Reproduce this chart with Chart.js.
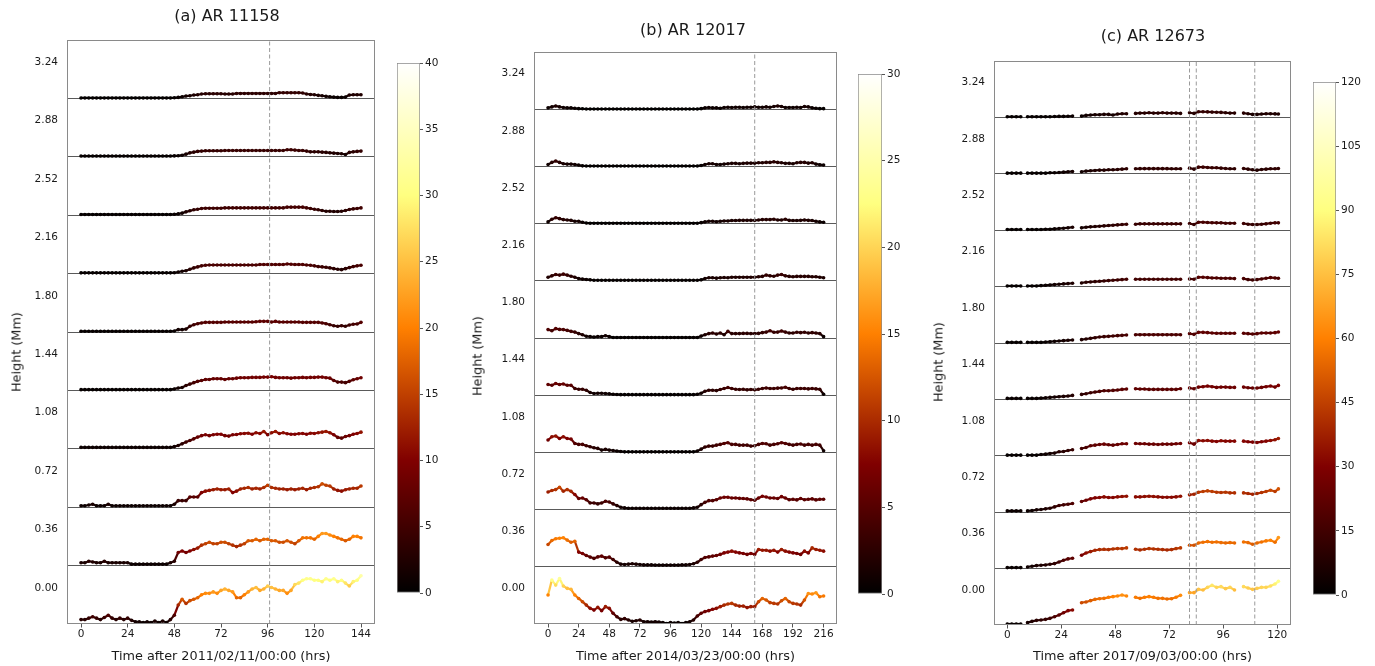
<!DOCTYPE html>
<html>
<head>
<meta charset="utf-8">
<script src="https://cdn.jsdelivr.net/npm/chart.js"></script>
<style>
  html, body { margin: 0; padding: 0; background: #fff; overflow: hidden; }
  body { width: 1375px; height: 666px; position: relative; font-family: "DejaVu Sans", sans-serif; }
  canvas { position: absolute; }
  .ylab { position: absolute; font-size: 12.8px; color: #1a1a1a; white-space: nowrap;
          transform: translate(-50%, -50%) rotate(-90deg); }
  .ttl { position: absolute; font-size: 16px; color: #1a1a1a; white-space: nowrap;
         transform: translate(-50%, -50%); }
</style>
</head>
<body>
<canvas id="pa"></canvas>
<canvas id="pb"></canvas>
<canvas id="pc"></canvas>
<canvas id="cba"></canvas>
<canvas id="cbb"></canvas>
<canvas id="cbc"></canvas>
<div class="ttl" style="left:227px;top:15px">(a) AR 11158</div>
<div class="ttl" style="left:693px;top:29px">(b) AR 12017</div>
<div class="ttl" style="left:1153px;top:35px">(c) AR 12673</div>
<div class="ylab" style="left:16px;top:352px">Height (Mm)</div>
<div class="ylab" style="left:477px;top:356px">Height (Mm)</div>
<div class="ylab" style="left:938px;top:362px">Height (Mm)</div>
<script>
// etiquetas de altura de cada franja (de abajo hacia arriba)
var HEIGHT_LABELS = ['0.00', '0.36', '0.72', '1.08', '1.44', '1.80', '2.16', '2.52', '2.88', '3.24'];

// ---------- (a) AR 11158 ----------
var TIMES_A = [0,2,4,6,8,10,12,14,16,18,20,22,24,26,28,30,32,34,36,38,40,42,44,46,48,50,52,54,56,58,60,62,64,66,68,70,72,74,76,78,80,82,84,86,88,90,92,94,96,98,100,102,104,106,108,110,112,114,116,118,120,122,124,126,128,130,132,134,136,138,140,142,144];
var XTICKS_A = [0, 24, 48, 72, 96, 120, 144];
var VLINES_A = [97];
var CBTICKS_A = [0, 5, 10, 15, 20, 25, 30, 35, 40];

var A_000 = [3,3,4,5,4,3,4.5,6,4,3,4,3, 4,2.5,1.5,1.5,1,1.5,1,2,1,2,1,3, 6,13,17,14,16,17,18,20,21,21,22,21, 23,24,23,22,18,18,20,22,24,25,23,24, 26,25,24,23,23,21,23,27,28,30,31,31, 30,30,29,31,30,31,29,30,28,26,29,30, 33];
var A_036 = [2,2,3,2.5,2,2,3,2,2,2,2,2, 2,1,1,1,1,1,1,1,1,1,1,2, 3,9,10,9,10,11,12,14,15,16,15,15, 16,16,15,14,13,14,15,17,17,18,17,18, 18,17,17,16,16,17,16,15,17,19,19,19, 18,20,22,22,21,20,19,18,17,18,20,20, 19];
var A_072 = [1,1,1.5,2,1,1,1,2,1,1,1,1, 1,1,1,1,1,1,1,1,1,1,1,1, 2,4.5,4.5,4.5,7,7,7,10,11,11.5,12,12.5, 12,12,12.5,10,11,12.5,13,13.5,12.5,13,12.5,13.5, 15,13.5,13,12.5,12.5,12,12.5,12,12.5,13,12,13, 13.5,14,16,15,14.5,12.5,11.5,11,12,12.5,13,13, 14.5];
var A_108 = [1,1,1,1,1,1,1,1,1,1,1,1, 1,1,1,1,1,1,1,1,1,1,1,1, 1.5,2.3,3.4,4.6,5.7,6.8,8,9,9.6,9,9.6,10, 10,9,8.7,9.6,9.8,10.3,10.5,10.7,10,11,10.5,11.9, 9.6,11,11.9,10.5,11,10.3,10,10,10.3,10.5,10,10.7, 10.5,11,11.4,11.9,11,9.6,7.8,7.3,8.4,9,10,10.5, 11.4];
var A_144 = [0.5,0.5,0.5,0.5,0.5,0.5,0.5,0.5,0.5,0.5,0.5,0.5, 0.5,0.5,0.5,0.5,0.5,0.5,0.5,0.5,0.5,0.5,0.5,0.5, 1,1.6,2,3.4,4.3,5.3,6.2,6.8,7.5,7.5,8,8, 8,7.5,8,8,8.4,8.7,8.7,8.7,8.9,8.9,8.9,9.1, 9.1,9.4,8.9,8.7,8.7,8.7,8.4,8.7,8.7,8.9,8.7,8.9, 8.9,9.1,9.1,8.7,8.4,6.8,5.7,5.7,5.3,6.2,7.3,8, 8.7];
var A_180 = [0.5,0.5,0.5,0.5,0.5,0.5,0.5,0.5,0.5,0.5,0.5,0.5, 0.5,0.5,0.5,0.5,0.5,0.5,0.5,0.5,0.5,0.5,0.5,0.5, 0.7,1.6,1.6,2,3.9,5,5.7,6.2,6.6,6.6,6.6,6.6, 6.6,6.8,6.8,6.8,6.8,6.8,6.8,6.8,6.8,7,7.3,7.3, 7.3,6.8,7.3,6.8,6.8,6.8,6.8,6.8,6.8,6.6,6.6,6.6, 6.6,6.6,6.2,5.7,5,4.3,3.9,4.3,3.9,4.8,5.3,5.5, 6.6];
var A_216 = [0.5,0.5,0.5,0.5,0.5,0.5,0.5,0.5,0.5,0.5,0.5,0.5, 0.5,0.5,0.5,0.5,0.5,0.5,0.5,0.5,0.5,0.5,0.5,0.5, 0.6,1.1,1.6,2,3,3.9,4.6,5.3,5.7,5.9,5.9,5.9, 5.9,5.9,5.9,5.9,5.9,5.9,5.9,5.9,5.9,5.9,6.2,6.2, 6.2,6.2,6.2,6.2,6.2,6.6,6.4,6.2,6.2,6.2,5.9,5.7, 5.3,4.8,4.6,4.3,3.9,3.4,3,2.7,3.4,4.1,4.8,5.3, 5.7];
var A_252 = [0.5,0.5,0.5,0.5,0.5,0.5,0.5,0.5,0.5,0.5,0.5,0.5, 0.5,0.5,0.5,0.5,0.5,0.5,0.5,0.5,0.5,0.5,0.5,0.5, 0.6,0.9,1.4,2.3,3,3.7,4.1,4.6,4.8,4.8,4.8,4.8, 4.8,5,5,5,5,5,5,5,5,5,5,5, 5,5,5,5,5,5.5,5.5,5.5,5.5,5.5,5,4.6, 4.1,3.7,3.2,2.7,2.7,2.5,2.5,2.7,3.2,3.9,4.3,4.6, 5];
var A_288 = [0.5,0.5,0.5,0.5,0.5,0.5,0.5,0.5,0.5,0.5,0.5,0.5, 0.5,0.5,0.5,0.5,0.5,0.5,0.5,0.5,0.5,0.5,0.5,0.5, 0.6,0.7,1.1,1.8,2.7,3.2,3.7,3.9,4.1,4.1,4.1,4.1, 4.1,4.3,4.3,4.3,4.3,4.3,4.3,4.3,4.3,4.3,4.3,4.3, 4.3,4.3,4.3,4.3,4.3,4.8,4.8,4.6,4.3,4.3,3.9,3.4, 3.4,3.4,3.2,3,2.7,2.5,2.3,2.1,1.6,3,3.4,3.7, 3.9];
var A_324 = [0.3,0.3,0.3,0.3,0.3,0.3,0.3,0.3,0.3,0.3,0.3,0.3, 0.3,0.3,0.3,0.3,0.3,0.3,0.3,0.3,0.3,0.3,0.3,0.3, 0.4,0.7,1.1,1.6,1.8,2.3,2.5,3,3.2,3.2,3.2,3.2, 3.2,3,3,3,3.4,3.4,3.4,3.4,3.4,3.4,3.4,3.4, 3.4,3.4,3.4,3.9,3.9,3.9,3.9,3.9,3.9,3.7,3,2.7, 2.5,2.1,1.8,1.4,1.1,0.9,0.7,0.7,0.9,2.3,2.5,2.5, 2.5];

// ---------- (b) AR 12017 ----------
var TIMES_B = [0,3,6,9,12,15,18,21,24,27,30,33,36,39,42,45,48,51,54,57,60,63,66,69,72,75,78,81,84,87,90,93,96,99,102,105,108,111,114,117,120,123,126,129,132,135,138,141,144,147,150,153,156,159,162,165,168,171,174,177,180,183,186,189,192,195,198,201,204,207,210,213,216];
var XTICKS_B = [0, 24, 48, 72, 96, 120, 144, 168, 192, 216];
var VLINES_B = [162];
var CBTICKS_B = [0, 5, 10, 15, 20, 25, 30];

var B_000 = [15.2,23,20.4,23.9,19.9,18.7,18.2,15.2,13.4,11.7,9.9,8.2, 7.3,8.7,7,9.1,8.2,5.6,3.8,2.4,2.8,2.1,1.4,1.7, 2.1,1.2,1.2,1,1.2,1,0.7,0.3,0.7,0.5,0.7,0.3, 0.7,1.2,2.1,4.2,5.6,6.5,7,7.7,8.2,9.1,9.9,10.5, 10.8,9.9,9.4,9.4,8.6,9.1,9.1,11.7,13.4,12.6,11.2,10.8, 10.5,12.2,13.4,11.7,10.8,10.5,9.9,12.6,16,15.7,16.4,14.3, 14.7];
var B_036 = [11.7,13.8,14.7,15,15.2,14,12.9,13.4,7.7,7,5.9,5.1, 4.4,5.2,5.6,4.7,5.1,3.8,2.4,1.4,1.2,1.4,1.6,1.4, 1.2,1,1,1,0.9,0.9,0.9,0.9,0.9,0.9,0.9,1, 1,1.2,1.6,2.4,3.8,4.9,5.2,5.6,5.9,6.5,7.3,7.7, 8.2,7.7,7.3,7,6.5,7,6.5,9.1,8.7,8.7,8.2,8.7, 7.7,9.1,8.2,7.7,7.3,7,6.5,8.2,7.3,9.9,9.1,8.7, 8.2];
var B_072 = [9.2,10,10.5,11.7,9.6,10.5,9.6,7.9,5.8,6.1,5.2,3.5, 3.5,3,3.5,4.4,4,3,2.1,1.2,0.9,0.7,0.7,0.7, 0.7,0.7,0.7,0.7,0.7,0.7,0.7,0.7,0.7,0.7,0.7,0.7, 0.7,0.7,0.9,1.2,2.6,3.8,4.7,4.7,5.2,6.1,6.5,6.5, 6.1,6.1,5.9,5.8,5.6,5.2,4.9,6.1,7,6.6,6.1,6.1, 5.8,6.8,6.1,5.2,5.4,5.1,5.8,5.2,5.4,5.6,5.1,5.4, 5.4];
var B_108 = [6.5,8.2,8.6,7.3,8.2,7.3,7,4.7,4.2,4.2,3.5,3, 2.4,2.1,1.2,1.6,1.2,1,0.7,0.5,0.3,0.3,0.3,0.3, 0.3,0.3,0.3,0.3,0.3,0.3,0.3,0.3,0.3,0.3,0.3,0.3, 0.3,0.3,0.3,0.7,1.7,2.8,3.3,3.3,3.8,4.2,4.7,5.1, 4.2,4.2,3.8,3.8,3.8,3.3,3.5,4.2,4.7,4.5,3.8,4.2, 4.5,5.1,4.7,4.2,3.8,4.2,4.4,3.8,4.2,3.8,4.2,3.8, 0.9];
var B_144 = [5.6,5.2,6.1,5.6,5.9,5.2,5.2,3.5,3.1,3.1,2.6,1.4, 0.9,1,1,0.9,0.7,0.5,0.4,0.3,0.3,0.3,0.3,0.3, 0.3,0.3,0.3,0.3,0.3,0.3,0.3,0.3,0.3,0.3,0.3,0.3, 0.3,0.3,0.3,0.5,1,2.1,2.6,2.6,2.4,3,3.5,4, 3.5,3.1,3,3.1,2.8,3,2.8,3.1,3.5,3.8,3.5,3.5, 3.7,3.8,4.2,3.5,3.1,3.5,3.5,3.5,3.3,3.5,3.3,3.1, 0.5];
var B_180 = [4.4,3.8,4.9,4.5,4.4,4,3.5,3.1,2.3,1.7,0.9,0.7, 0.5,0.7,0.7,1.2,0.7,0.3,0.3,0.3,0.3,0.3,0.3,0.3, 0.3,0.3,0.3,0.3,0.3,0.3,0.3,0.3,0.3,0.3,0.3,0.3, 0.3,0.3,0.3,0.3,1,1.7,2.3,2.6,2.1,2.6,1.7,3.5, 2.3,2.3,2.3,2.4,2.4,2.3,2.3,2.4,2.8,3.1,3.8,3, 3.1,3.7,3.1,2.6,2.6,3,2.8,3,2.6,2.8,2.6,2.3, 0.7];
var B_216 = [1.9,2.6,3.3,3,3.5,3,2.4,1.9,1.2,0.9,0.7,0.5, 0.3,0.3,0.3,0.3,0.3,0.3,0.3,0.3,0.3,0.3,0.3,0.3, 0.3,0.3,0.3,0.3,0.3,0.3,0.3,0.3,0.3,0.3,0.3,0.3, 0.3,0.3,0.3,0.3,0.5,1.2,1.6,1.6,1.4,1.6,1.7,1.6, 1.9,1.9,1.9,1.9,1.9,1.9,1.9,2.1,2.3,3,2.6,2.4, 3,3.3,2.6,2.3,2.1,2.3,2.3,2.3,2.3,2.1,2.1,1.9, 1.6];
var B_252 = [0.9,2.3,3.1,2.6,2.1,1.9,1.7,1.2,1.2,0.7,0.3,0.2, 0.2,0.2,0.2,0.2,0.2,0.2,0.2,0.2,0.2,0.2,0.2,0.2, 0.2,0.2,0.2,0.2,0.2,0.2,0.2,0.2,0.2,0.2,0.2,0.2, 0.2,0.2,0.2,0.2,0.5,0.9,1.2,1.2,1,1.2,1.4,1.4, 1.6,1.6,1.7,1.7,1.7,1.7,1.7,1.9,2.1,2.1,2.1,2.3, 1.9,1.9,2.3,1.7,1.6,1.6,1.7,1.9,1.7,1.6,1.2,0.9, 0.7];
var B_288 = [1,2.1,2.8,2.1,1.4,1.2,1.2,1,0.7,0.3,0.2,0.2, 0.2,0.2,0.2,0.2,0.2,0.2,0.2,0.2,0.2,0.2,0.2,0.2, 0.2,0.2,0.2,0.2,0.2,0.2,0.2,0.2,0.2,0.2,0.2,0.2, 0.2,0.2,0.2,0.2,0.5,1,1.4,1.4,1,1,1.2,1.4, 1.6,1.6,1.4,1.6,1.7,1.7,1.7,1.9,1.9,2.1,2.1,2.4, 2.1,1.9,1.6,1.6,1.4,1.9,2.1,2.1,1.7,1.9,1.2,0.9, 0.7];
var B_324 = [0.7,1.2,1.7,1.2,0.9,0.7,0.7,0.5,0.3,0.2,0.1,0.1, 0.1,0.1,0.1,0.1,0.1,0.1,0.1,0.1,0.1,0.1,0.1,0.1, 0.1,0.1,0.1,0.1,0.1,0.1,0.1,0.1,0.1,0.1,0.1,0.1, 0.1,0.1,0.1,0.1,0.3,0.7,0.9,0.7,0.7,0.5,0.9,1, 0.9,1,1,0.9,1,1,1.2,1,1,1.2,1,1.4, 1.7,1.4,0.9,0.9,0.9,1,0.9,1.4,1.2,0.7,0.5,0.3, 0.3];

// ---------- (c) AR 12673 ----------
var TIMES_C = [0,2,4,6, 9,11,13,15,17,19,21,23,25,27,29, 33,35,37,39,41,43,45,47,49,51,53, 57,59,61,63,65,67,69,71,73,75,77, 81,83,85,87,89,91,93,95,97,99,101, 105,107,109,111,113,115,117,119,120.5];
var XTICKS_C = [0, 24, 48, 72, 96, 120];
var VLINES_C = [81, 84, 110];
var CBTICKS_C = [0, 15, 30, 45, 60, 75, 90, 105, 120];

var C_000 = [2.1,2.1,2.1,2.1, 5,7.8,9.9,10.6,12,14.2,17.7,21.3,26.2,30.5,31.9, 47.5,48.9,51.8,54.6,56,56.7,58.9,60.3,61.7,63.8,61.7, 58.9,56.7,58.9,60.3,58.9,56.7,56.7,55.3,56,58.9,63.1, 68.8,68.8,75.9,74.5,80.1,84.4,80.1,81.6,77.3,80.1,74.5, 81.6,78.7,75.9,78,80.1,80.1,83,87.2,92.9];
var C_036 = [2.1,2.1,2.1,2.1, 3.5,5,6.4,7.1,7.8,9.2,10.6,14.2,17.7,20.6,22, 28.4,33.3,36.2,39,40.4,41.1,40.4,41.8,42.6,42.6,44, 41.1,39.7,41.1,42.6,41.8,41.1,40.4,39.7,40.4,42.6,44, 49.6,49.6,54.6,56,57.4,56,56.7,55.3,54.6,55.3,54.6, 56.7,55.3,51.8,54.6,56.7,58.9,60.3,56,66];
var C_072 = [2.8,2.8,2.8,2.8, 2.8,3.5,5,5.7,7.1,8.5,11.3,14.2,15.6,17,18.4, 22.7,25.5,28.4,30.5,31.2,32.6,31.2,31.2,32.6,33.3,34, 32.6,32.6,33.3,34,33.3,32.6,31.9,31.9,31.9,32.6,34, 36.9,38.3,42.6,44,45.4,44,42.6,41.8,42.6,41.1,41.1, 41.1,39.7,38.3,39.7,41.8,44,46.8,44,49.6];
var C_108 = [1.4,1.4,1.4,1.4, 1.4,1.4,1.4,2.8,3.5,5,5.7,8.5,9.2,11.3,12.8, 15.6,17.7,21.3,22.7,24.1,24.8,23.4,22.7,24.1,25.5,25.5, 26.2,25.5,25.5,24.8,24.8,24.1,24.8,24.8,24.8,25.5,26.2, 27.7,24.8,32.6,31.9,32.6,31.2,30.5,31.9,31.2,31.2,31.2, 31.2,29.8,29.1,28.4,29.8,31.2,32.6,34,36.9];
var C_144 = [2.1,2.1,2.1,2.1, 2.1,2.1,2.1,2.8,3.5,4.3,5,5.7,6.4,7.1,8.5, 10.6,12,14.2,15.6,17,18.4,18.4,19.1,19.9,21.3,22, 22.7,22,22,21.3,21.3,21.3,21.3,21.3,21.3,21.3,22.7, 24.1,22.7,26.2,27,28.4,27,25.5,26.2,26.2,25.5,25.5, 26.2,24.8,24.1,24.1,25.5,27,28.4,26.2,29.8];
var C_180 = [1.4,1.4,1.4,1.4, 1.4,1.4,1.4,1.4,2.1,2.8,3.5,4.3,5,5.7,6.4, 7.1,8.5,9.9,11.3,12.8,13.5,14.2,14.9,15.6,16.3,17, 17.7,17.7,17.7,17.7,17.7,17.7,17.7,17.7,17.7,17.7,17.7, 19.9,18.4,22.7,22.7,22,21.3,20.6,20.6,20.6,20.6,20.6, 20.6,19.9,19.1,19.9,21.3,21.3,21.3,22,23.4];
var C_216 = [1.4,1.4,1.4,1.4, 1.4,1.4,1.4,2.1,2.8,3.5,4.3,5,5.7,6.4,7.1, 7.8,9.2,9.9,10.6,11.3,12,12.8,13.5,14.2,14.9,15.6, 15.6,15.6,15.6,15.6,15.6,15.6,15.6,15.6,15.6,15.6,15.6, 16.3,15.6,19.9,19.9,19.1,18.4,18.4,17.7,17.7,17.7,17, 17,14.9,14.2,14.9,16.3,17.7,19.1,18.4,17.7];
var C_252 = [1.4,1.4,1.4,1.4, 1.4,1.4,1.4,1.4,2.1,2.1,2.8,3.5,4.3,5,6.4, 5,6.4,7.1,7.8,8.5,9.2,9.9,10.6,11.3,12,12.8, 12.8,13.5,13.5,13.5,13.5,13.5,13.5,13.5,13.5,13.5,13.5, 14.2,12,17,17,16.3,16,15.6,15.6,14.9,14.9,14.9, 14.2,12.8,12,12,12.8,13.5,14.9,15.6,15.6];
var C_288 = [1.4,1.4,1.4,1.4, 1.4,1.4,1.4,1.4,1.4,2.1,2.1,2.8,3.5,4.3,5, 4.3,5.7,6.4,7.1,7.8,7.8,8.5,8.5,9.2,9.9,10.6, 10.6,11,11,11,11,11,11,11,10.6,10.6,10.6, 12,9.9,14.2,14.2,13.5,12.8,12.8,12,11.3,10.6,10.6, 11.3,9.9,8.5,7.8,9.2,9.9,10.6,10.6,11.3];
var C_324 = [1.4,1.4,1.4,1.4, 1.4,1.4,1.4,1.4,1.4,1.4,1.8,2.1,2.1,2.5,2.8, 2.8,4.3,5,5.7,5.7,6.4,6.4,5,7.1,7.8,7.8, 8.5,9.2,9.2,9.9,9.2,9.2,9.9,9.2,9.2,9.2,8.5, 9.9,8.5,12,12,11.7,11.3,11,10.6,9.9,9.2,9.2, 9.2,7.8,6.4,6.4,7.1,7.8,7.8,7.4,7.1];

Chart.defaults.font.family = '"DejaVu Sans", sans-serif';
Chart.defaults.color = '#1a1a1a';
Chart.defaults.animation = false;

// mapa de color afmhot (negro - rojo - naranja - amarillo - blanco)
function afmhot(f) {
    f = Math.max(0, Math.min(1, f));
    var c = function(x) { return Math.round(255 * Math.max(0, Math.min(1, x))); };
    return 'rgb(' + c(2 * f) + ',' + c(2 * f - 0.5) + ',' + c(2 * f - 1) + ')';
}
var AFMHOT_STOPS = [[0, '#000000'], [0.25, '#800000'], [0.5, '#ff8000'], [0.75, '#ffff80'], [1, '#ffffff']];

// marco completo alrededor del area del grafico
var framePlugin = {
    id: 'frame',
    afterDatasetsDraw: function(chart) {
        var a = chart.chartArea, ctx = chart.ctx;
        ctx.save();
        ctx.strokeStyle = '#8a8a8a';
        ctx.lineWidth = 1;
        var l = Math.round(a.left) + 0.5, t = Math.round(a.top) + 0.5;
        var r = Math.round(a.right) - 0.5, b = Math.round(a.bottom) - 0.5;
        ctx.strokeRect(l, t, r - l, b - t);
        ctx.restore();
    }
};

function makePanel(p) {
    var canvas = document.getElementById(p.id);
    canvas.width = p.w;
    canvas.height = 666;
    canvas.style.left = p.left + 'px';
    canvas.style.top = '0px';
    var R = p.R;
    var datasets = [];

    p.vlines.forEach(function(t) {
        datasets.push({
            type: 'line',
            data: [{x: t, y: 0}, {x: t, y: 10 * R}],
            borderColor: '#9a9a9a', borderWidth: 1, borderDash: [4, 2.5],
            pointRadius: 0, order: -1
        });
    });

    p.strips.forEach(function(vals, k) {
        datasets.push({
            type: 'scatter',
            data: vals.map(function(v, i) { return {x: p.times[i], y: k * R + v}; }),
            pointBackgroundColor: vals.map(function(v) { return afmhot(v / R); }),
            pointBorderWidth: 0,
            pointRadius: 1.8,
            showLine: true,
            borderWidth: 2.2,
            segment: {
                // color del tramo segun el valor; sin tramo en los huecos de datos
                borderColor: function(s) {
                    if (s.p1.parsed.x - s.p0.parsed.x > p.gap) return 'rgba(0,0,0,0)';
                    var v = (s.p0.parsed.y + s.p1.parsed.y) / 2 - k * R;
                    return afmhot(v / R);
                }
            },
            order: 1
        });
    });

    // ticks del eje y: etiqueta de cada franja + separadores
    var yTicks = [];
    for (var k = 0; k < 10; k++) {
        yTicks.push({value: (k + 0.62) * R, lbl: HEIGHT_LABELS[k]});
        if (k > 0) yTicks.push({value: k * R, lbl: ''});
    }
    yTicks.sort(function(a, b) { return a.value - b.value; });

    new Chart(canvas, {
        type: 'scatter',
        data: {datasets: datasets},
        options: {
            responsive: false,
            events: [],
            layout: {padding: {left: 0, top: p.chartT, bottom: 0, right: p.left + p.w - p.chartR}},
            plugins: {
                legend: {display: false},
                tooltip: {enabled: false}
            },
            scales: {
                x: {
                    type: 'linear', min: p.xMin, max: p.xMax,
                    afterBuildTicks: function(s) { s.ticks = p.xTicks.map(function(v) { return {value: v}; }); },
                    afterFit: function(s) { s.height = 666 - p.chartB; },
                    grid: {drawOnChartArea: false, drawTicks: true, tickLength: 3.5, color: '#555'},
                    border: {display: false},
                    ticks: {padding: 0.5, font: {size: 10.5}, maxRotation: 0, autoSkip: false},
                    title: {display: true, text: p.xlabel, font: {size: 12.8}, padding: {top: 0, bottom: 1.5}}
                },
                y: {
                    min: 0, max: 10 * R,
                    afterBuildTicks: function(s) { s.ticks = yTicks.map(function(t) { return {value: t.value, lbl: t.lbl}; }); },
                    afterFit: function(s) { s.width = p.chartL - p.left; },
                    grid: {
                        drawTicks: false, lineWidth: 1,
                        color: function(c) { return (c.tick && c.tick.lbl) ? 'rgba(0,0,0,0)' : '#5a5a5a'; }
                    },
                    border: {display: false},
                    ticks: {
                        autoSkip: false, padding: 9, font: {size: 10.5},
                        callback: function(v, i, ticks) { return ticks[i].lbl || ''; }
                    }
                }
            }
        },
        plugins: [framePlugin]
    });
}

function makeColorbar(c) {
    var canvas = document.getElementById(c.id);
    canvas.width = c.R - c.L + 5 + 32;
    canvas.height = c.B - c.T + 20;
    canvas.style.left = (c.L - 5) + 'px';
    canvas.style.top = (c.T - 10) + 'px';
    new Chart(canvas, {
        type: 'bar',
        data: {
            labels: [''],
            datasets: [{
                data: [[0, c.max]],
                backgroundColor: function(ctx) {
                    var a = ctx.chart.chartArea;
                    if (!a) return '#000';
                    var g = ctx.chart.ctx.createLinearGradient(0, a.bottom, 0, a.top);
                    AFMHOT_STOPS.forEach(function(s) { g.addColorStop(s[0], s[1]); });
                    return g;
                },
                borderColor: '#8a8a8a', borderWidth: 1, borderSkipped: false,
                barPercentage: 1, categoryPercentage: 1
            }]
        },
        options: {
            responsive: false,
            events: [],
            layout: {padding: {left: 5, top: 10, bottom: 10, right: 0}},
            plugins: {legend: {display: false}, tooltip: {enabled: false}},
            scales: {
                x: {display: false},
                y: {
                    position: 'right', min: 0, max: c.max,
                    afterBuildTicks: function(s) { s.ticks = c.ticks.map(function(v) { return {value: v}; }); },
                    afterFit: function(s) { s.width = 32; },
                    grid: {drawOnChartArea: false, drawTicks: true, tickLength: 3, color: '#555'},
                    border: {display: false},
                    ticks: {padding: 2, font: {size: 10.5}, autoSkip: false}
                }
            }
        }
    });
}

makePanel({
    id: 'pa', left: 0, w: 454, chartL: 67, chartR: 375, chartT: 40, chartB: 624, gap: 2.5,
    xlabel: 'Time after 2011/02/11/00:00 (hrs)',
    xMin: -7.2, xMax: 151.2, xTicks: XTICKS_A, vlines: VLINES_A, R: 40, times: TIMES_A,
    strips: [A_000, A_036, A_072, A_108, A_144, A_180, A_216, A_252, A_288, A_324]
});
makePanel({
    id: 'pb', left: 440, w: 506, chartL: 534, chartR: 837, chartT: 52, chartB: 624, gap: 3.5,
    xlabel: 'Time after 2014/03/23/00:00 (hrs)',
    xMin: -11, xMax: 226.5, xTicks: XTICKS_B, vlines: VLINES_B, R: 30, times: TIMES_B,
    strips: [B_000, B_036, B_072, B_108, B_144, B_180, B_216, B_252, B_288, B_324]
});
makePanel({
    id: 'pc', left: 915, w: 476, chartL: 994, chartR: 1291, chartT: 61, chartB: 625, gap: 2.5,
    xlabel: 'Time after 2017/09/03/00:00 (hrs)',
    xMin: -5.9, xMax: 126.1, xTicks: XTICKS_C, vlines: VLINES_C, R: 120, times: TIMES_C,
    strips: [C_000, C_036, C_072, C_108, C_144, C_180, C_216, C_252, C_288, C_324]
});

makeColorbar({id: 'cba', L: 397, R: 420, T: 63, B: 593, max: 40, ticks: CBTICKS_A});
makeColorbar({id: 'cbb', L: 858, R: 882, T: 74, B: 594, max: 30, ticks: CBTICKS_B});
makeColorbar({id: 'cbc', L: 1313, R: 1336, T: 82, B: 595, max: 120, ticks: CBTICKS_C});
</script>
</body>
</html>
